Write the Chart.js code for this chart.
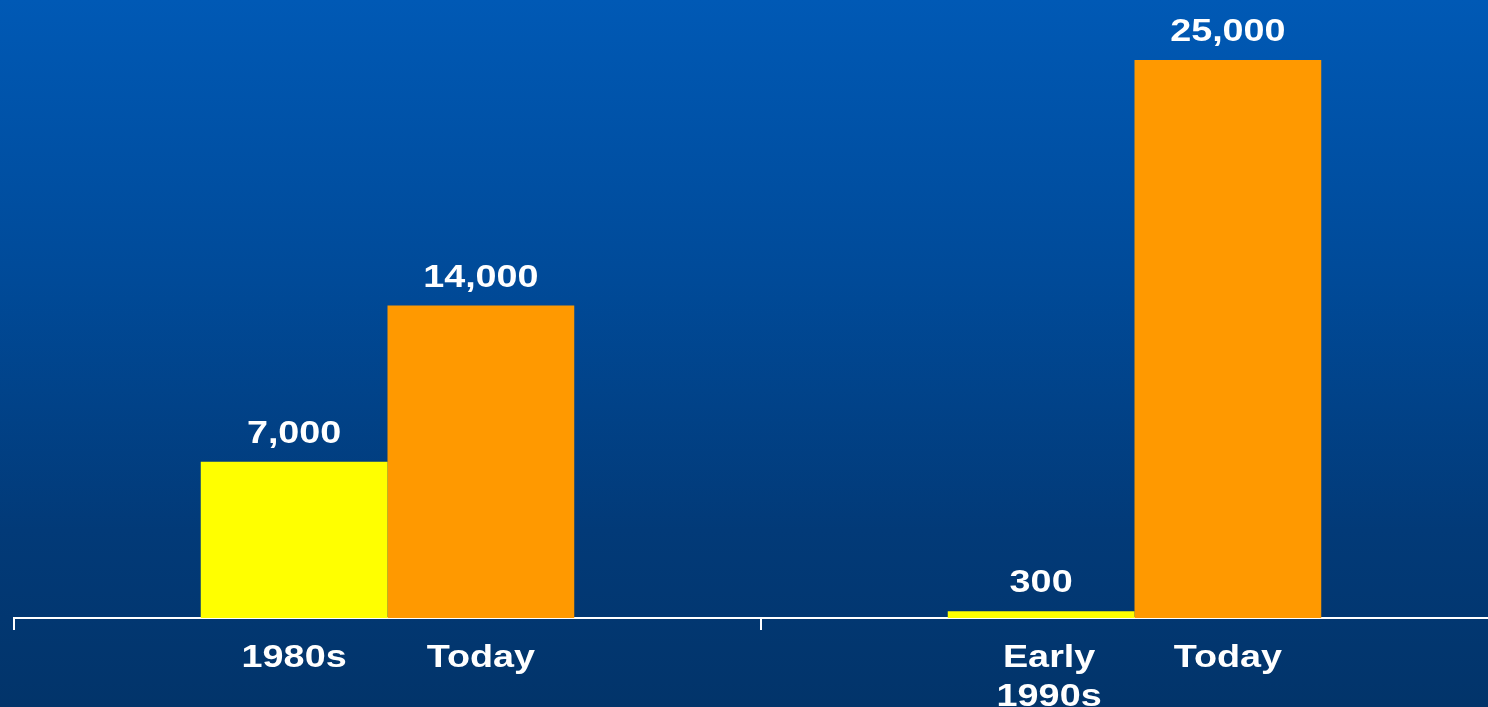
<!DOCTYPE html>
<html lang="en">
<head>
    <meta charset="UTF-8">
    <title>Then and Today</title>
    <script src="https://cdn.jsdelivr.net/npm/chart.js"></script>
    <style>
        html, body { margin: 0; padding: 0; overflow: hidden; }
        body { width: 1488px; height: 707px; background: linear-gradient(to bottom, #0059b5 0%, #004a98 40%, #023a78 75%, #02346a 100%); }
        #wrap { width: 1530px; height: 707px; }
    </style>
</head>
<body>
    <div id="wrap"><canvas id="myChart" width="1530" height="707"></canvas></div>

    <script>
        // data
        const categories = ['First', 'Second'];
        const earlierLabels = ['1980s', ['Early', '1990s']];
        const todayLabels = ['Today', 'Today'];
        const earlierValues = [7000, 300];
        const todayValues = [14000, 25000];

        const barText = ['earlier', 'today'];

        // draws values above the bars and the names under them
        const barLabels = {
            id: 'barLabels',
            afterDatasetsDraw(chart) {
                const ctx = chart.ctx;
                const bottom = chart.chartArea.bottom;
                const names = [earlierLabels, todayLabels];
                ctx.save();
                ctx.fillStyle = '#ffffff';
                ctx.font = 'bold 32px "Liberation Sans", Arial, sans-serif';
                ctx.textAlign = 'center';
                ctx.textBaseline = 'alphabetic';
                chart.data.datasets.forEach((ds, i) => {
                    chart.getDatasetMeta(i).data.forEach((bar, j) => {
                        drawText(ctx, ds.data[j].toLocaleString('en-US'), bar.x, bar.y - 19);
                        let lines = names[i][j];
                        if (!Array.isArray(lines)) lines = [lines];
                        const shift = lines.length > 1 ? 8 : 0;
                        lines.forEach((t, k) => drawText(ctx, t, bar.x + shift, bottom + 49 + k * 39));
                    });
                });
                ctx.restore();
            }
        };

        function drawText(ctx, text, x, y) {
            ctx.save();
            ctx.translate(x, y);
            ctx.scale(1.18, 1);
            ctx.fillText(text, 0, 0);
            ctx.restore();
        }

        const ctx = document.getElementById('myChart').getContext('2d');
        const myChart = new Chart(ctx, {
            type: 'bar',
            data: {
                labels: categories,
                datasets: [{
                    label: barText[0],
                    data: earlierValues,
                    backgroundColor: '#ffff00'
                }, {
                    label: barText[1],
                    data: todayValues,
                    backgroundColor: '#ff9900'
                }]
            },
            options: {
                responsive: false,
                animation: false,
                layout: { padding: { left: 14, right: 22, top: 0, bottom: 0 } },
                datasets: {
                    bar: { barPercentage: 1, categoryPercentage: 0.5 }
                },
                plugins: {
                    legend: { display: false },
                    tooltip: { enabled: false }
                },
                scales: {
                    x: {
                        grid: {
                            offset: true,
                            drawOnChartArea: false,
                            color: '#ffffff',
                            lineWidth: 2,
                            tickLength: 12
                        },
                        border: { display: true, color: '#ffffff', width: 2 },
                        ticks: { display: false },
                        afterFit(scale) { scale.height = 89; }
                    },
                    y: {
                        display: false,
                        min: 0,
                        max: 27693
                    }
                }
            },
            plugins: [barLabels]
        });
    </script>
</body>
</html>
